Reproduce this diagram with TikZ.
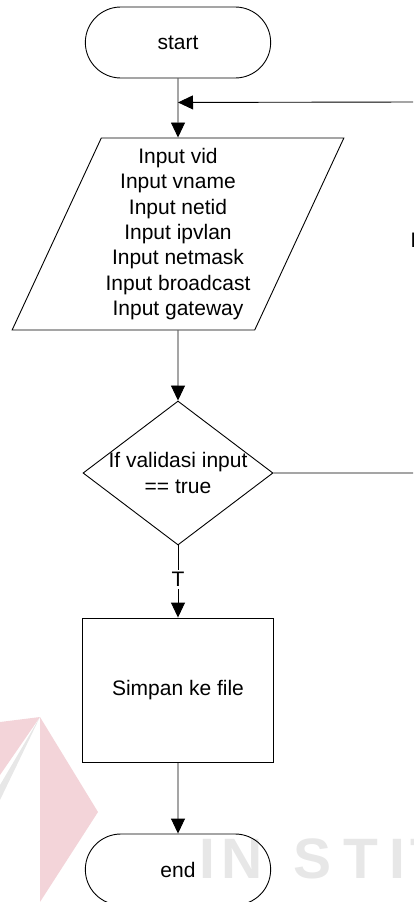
\documentclass[tikz,border=0pt]{standalone}
\usepackage{fontspec}
\setmainfont{Liberation Sans}
\usetikzlibrary{shapes.geometric, shapes.misc, arrows.meta}
\definecolor{wmpink}{RGB}{243,212,217}
\definecolor{wmgray}{RGB}{231,231,231}
\newcommand{\flowfont}{\fontsize{21pt}{25.3pt}\selectfont}
\tikzstyle{startstop} = [rounded rectangle, minimum width=192pt, minimum height=71pt, text centered, draw=black, font=\flowfont]
\tikzstyle{io} = [trapezium, trapezium left angle=63.7, trapezium right angle=116.3, trapezium stretches=true, minimum width=332pt, minimum height=192pt, align=center, draw=black, font=\flowfont]
\tikzstyle{process} = [rectangle, minimum width=191pt, minimum height=144pt, text centered, draw=black, font=\flowfont]
\tikzstyle{decision} = [diamond, aspect=1.32, minimum width=190pt, minimum height=144pt, inner sep=-3pt, align=center, draw=black, font=\flowfont]
\tikzstyle{flowlabel} = [fill=white, inner sep=2pt, font=\flowfont]
\tikzstyle{arrow} = [-{Triangle[length=15pt,width=14pt]}]
\begin{document}
\begin{tikzpicture}[x=1pt, y=1pt, line width=0.9pt]
		\useasboundingbox (0,0) rectangle (413,-902);
		\clip (0,0) rectangle (413,-902);
		% watermark
		\fill[wmpink] (40,-717) -- (98,-812) -- (40,-902) -- cycle;
		\fill[wmpink] (0,-722) -- (40,-717) -- (0,-775) -- cycle;
		\fill[wmgray] (40,-717) -- (0,-785) -- (0,-800) -- cycle;
		\foreach \ch/\cx in {I/207, N/242, S/313, T/361, I/397, T/428}
			\node[anchor=base, text=wmgray, font=\fontsize{57pt}{57pt}\selectfont\bfseries] at (\cx,-878) {\ch};
		
		\node (start) [startstop] at (178,-42.5) {start};
		\node (input) [io, node distance=191.5pt, below of=start] {Input vid\\Input vname\\Input netid\\Input ipvlan\\Input netmask\\Input broadcast\\Input gateway};
		\node (valid) [decision, node distance=239pt, below of=input] {If validasi input\\== true};
		\node (save) [process, node distance=217pt, below of=valid] {Simpan ke file};
		\node (end) [startstop, node distance=179.5pt, below of=save] {end};
		\coordinate (join) at ([yshift=-24pt]start.south);
		\coordinate (loopcorner) at (417,-102);
		
		\draw [arrow] (start) -- (input);
		\draw [arrow] (input) -- (valid);
		\draw [arrow] (valid) -- node[flowlabel, pos=0.47] {T} (save);
		\draw [arrow] (save) -- (end);
		\draw [arrow] (valid.east) -| node[flowlabel, pos=0.814] {F} (loopcorner) -- (join);
		\end{tikzpicture}
\end{document}
